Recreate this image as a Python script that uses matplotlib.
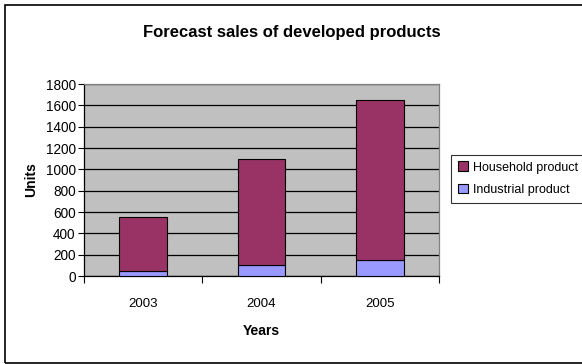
import matplotlib
matplotlib.use("Agg")
import matplotlib.pyplot as plt
from matplotlib.patches import Rectangle
import numpy as np

years = ["2003", "2004", "2005"]
industrial = [50, 100, 150]
household = [500, 1000, 1500]
yticks = [0, 200, 400, 600, 800, 1000, 1200, 1400, 1600, 1800]

plt.rcParams['font.family'] = ['Liberation Sans', 'DejaVu Sans']

fig = plt.figure(figsize=(5.82, 3.64), dpi=100)
ax = fig.add_axes([84/582, 1-276/364, (439-84)/582, (276-84)/364])
ax.set_facecolor("#C0C0C0")

x = np.arange(len(years))
b1 = ax.bar(x, industrial, width=0.4, color="#9999FF", edgecolor="black", linewidth=0.8, label="Industrial product", zorder=3)
b2 = ax.bar(x, household, width=0.4, bottom=industrial, color="#993366", edgecolor="black", linewidth=0.8, label="Household product", zorder=3)

ax.set_xlim(-0.5, 2.5)
ax.set_ylim(0, 1800)
ax.set_yticks(yticks)
ax.set_yticklabels([str(v) for v in yticks], fontsize=9.8)
ax.yaxis.grid(True, color="black", linewidth=0.9, zorder=1)
ax.set_axisbelow(True)

ax.set_xticks([-0.5, 0.5, 1.5, 2.5])
ax.set_xticklabels([])
ax.set_xticks(x, minor=True)
ax.set_xticklabels(years, minor=True, fontsize=9.5)
ax.tick_params(axis='x', which='major', direction='out', length=5, width=0.8, color='black')
ax.tick_params(axis='x', which='minor', length=0, pad=16)
ax.tick_params(axis='y', direction='out', length=4, width=0.8, pad=2)

for s in ['top', 'right']:
    ax.spines[s].set_color("#808080")
    ax.spines[s].set_linewidth(0.9)
for s in ['left', 'bottom']:
    ax.spines[s].set_color("black")
    ax.spines[s].set_linewidth(0.9)

ax.set_xlabel("Years", fontsize=10, fontweight='bold', labelpad=10)
ax.set_ylabel("Units", fontsize=10, fontweight='bold', labelpad=5)

fig.text(292/582, 1-33/364, "Forecast sales of developed products", ha='center', va='center',
         fontsize=12, fontweight='bold')

leg = fig.legend([b2, b1], ["Household product", "Industrial product"],
                 loc='center left', bbox_to_anchor=(451/582, 1-178.5/364),
                 fontsize=9, frameon=True, fancybox=False, edgecolor='black',
                 handlelength=0.8, handleheight=0.8, handletextpad=0.4,
                 borderpad=0.55, labelspacing=0.8, borderaxespad=0)
leg.get_frame().set_linewidth(0.8)

fig.patches.append(Rectangle((5/582, 1-363/364), 1.0, 358/364, transform=fig.transFigure,
                             fill=False, edgecolor='black', linewidth=1.2, clip_on=False))

fig.savefig("out.png", dpi=100)
